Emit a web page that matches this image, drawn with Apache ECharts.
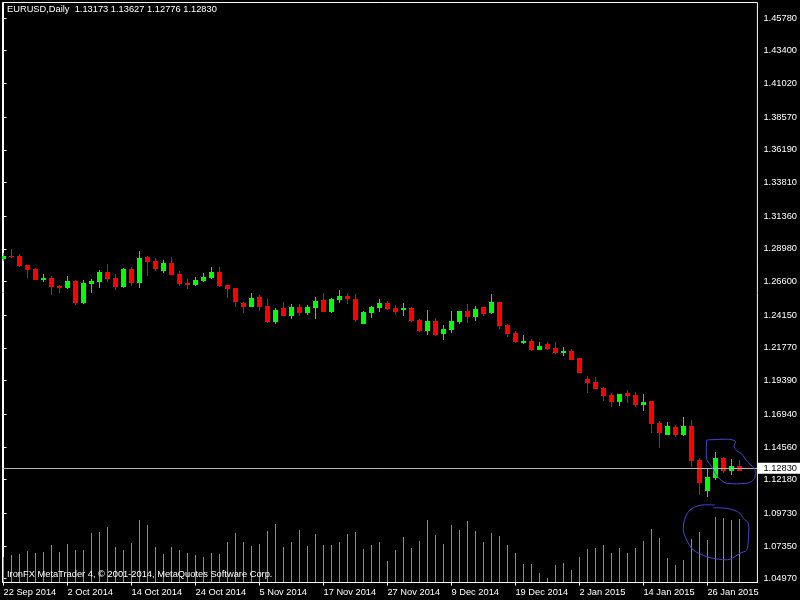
<!DOCTYPE html>
<html><head><meta charset="utf-8">
<script src="https://cdn.jsdelivr.net/npm/echarts@6/dist/echarts.min.js"></script>
<style>html,body{margin:0;padding:0;background:#000}#c{width:800px;height:600px}</style>
</head><body><div id="c"></div>
<script>
const symbolName = 'EURUSD,Daily';
const footerText = 'IronFX MetaTrader 4, © 2001-2014, MetaQuotes Software Corp.';
const dates = [
'22 Sep 2014','23 Sep 2014','24 Sep 2014','25 Sep 2014','26 Sep 2014','29 Sep 2014','30 Sep 2014','1 Oct 2014','2 Oct 2014','3 Oct 2014',
'6 Oct 2014','7 Oct 2014','8 Oct 2014','9 Oct 2014','10 Oct 2014','13 Oct 2014','14 Oct 2014','15 Oct 2014','16 Oct 2014','17 Oct 2014',
'20 Oct 2014','21 Oct 2014','22 Oct 2014','23 Oct 2014','24 Oct 2014','27 Oct 2014','28 Oct 2014','29 Oct 2014','30 Oct 2014','31 Oct 2014',
'3 Nov 2014','4 Nov 2014','5 Nov 2014','6 Nov 2014','7 Nov 2014','10 Nov 2014','11 Nov 2014','12 Nov 2014','13 Nov 2014','14 Nov 2014',
'17 Nov 2014','18 Nov 2014','19 Nov 2014','20 Nov 2014','21 Nov 2014','24 Nov 2014','25 Nov 2014','26 Nov 2014','27 Nov 2014','28 Nov 2014',
'1 Dec 2014','2 Dec 2014','3 Dec 2014','4 Dec 2014','5 Dec 2014','8 Dec 2014','9 Dec 2014','10 Dec 2014','11 Dec 2014','12 Dec 2014',
'15 Dec 2014','16 Dec 2014','17 Dec 2014','18 Dec 2014','19 Dec 2014','22 Dec 2014','23 Dec 2014','24 Dec 2014','26 Dec 2014','29 Dec 2014',
'30 Dec 2014','31 Dec 2014','2 Jan 2015','5 Jan 2015','6 Jan 2015','7 Jan 2015','8 Jan 2015','9 Jan 2015','12 Jan 2015','13 Jan 2015',
'14 Jan 2015','15 Jan 2015','16 Jan 2015','19 Jan 2015','20 Jan 2015','21 Jan 2015','22 Jan 2015','23 Jan 2015','26 Jan 2015','27 Jan 2015',
'28 Jan 2015','29 Jan 2015','30 Jan 2015'];
const open = [
1.2824,1.2846,1.2846,1.2780,1.2751,1.2671,1.2686,1.2627,1.2613,1.2664,
1.2504,1.2642,1.2657,1.2729,1.2686,1.2620,1.2751,1.2649,1.2838,1.2809,
1.2737,1.2795,1.2715,1.2649,1.2635,1.2664,1.2686,1.2729,1.2635,1.2613,
1.2504,1.2475,1.2547,1.2482,1.2365,1.2467,1.2409,1.2475,1.2431,1.2467,
1.2526,1.2438,1.2526,1.2555,1.2533,1.2351,1.2431,1.2467,1.2504,1.2467,
1.2453,1.2467,1.2380,1.2300,1.2373,1.2278,1.2307,1.2365,1.2445,1.2402,
1.2475,1.2431,1.2511,1.2344,1.2285,1.2212,1.2227,1.2162,1.2205,1.2176,
1.2140,1.2154,1.2103,1.1950,1.1929,1.1885,1.1834,1.1783,1.1849,1.1834,
1.1761,1.1790,1.1630,1.1543,1.1601,1.1543,1.1608,1.1361,1.1135,1.1230,
1.1376,1.1281,1.13173];
const high = [
1.2868,1.2897,1.2860,1.2781,1.2758,1.2715,1.2700,1.2635,1.2700,1.2671,
1.2671,1.2678,1.2744,1.2788,1.2715,1.2758,1.2766,1.2882,1.2846,1.2831,
1.2817,1.2838,1.2737,1.2678,1.2693,1.2722,1.2766,1.2766,1.2636,1.2614,
1.2511,1.2577,1.2562,1.2533,1.2467,1.2511,1.2496,1.2496,1.2489,1.2547,
1.2577,1.2540,1.2598,1.2577,1.2569,1.2445,1.2482,1.2533,1.2518,1.2489,
1.2504,1.2475,1.2387,1.2453,1.2394,1.2344,1.2445,1.2446,1.2496,1.2482,
1.2476,1.2569,1.2512,1.2351,1.2300,1.2271,1.2242,1.2220,1.2220,1.2220,
1.2183,1.2169,1.2104,1.1972,1.1965,1.1892,1.1849,1.1842,1.1870,1.1856,
1.1841,1.1791,1.1645,1.1638,1.1616,1.1674,1.1652,1.1376,1.1295,1.1419,
1.1383,1.1368,1.13627];
const low = [
1.2809,1.2831,1.2766,1.2686,1.2670,1.2657,1.2562,1.2577,1.2606,1.2489,
1.2496,1.2577,1.2613,1.2657,1.2598,1.2613,1.2627,1.2613,1.2700,1.2737,
1.2722,1.2706,1.2627,1.2606,1.2627,1.2657,1.2678,1.2620,1.2540,1.2475,
1.2431,1.2474,1.2445,1.2358,1.2351,1.2408,1.2387,1.2409,1.2416,1.2387,
1.2437,1.2431,1.2504,1.2496,1.2365,1.2350,1.2394,1.2438,1.2453,1.2416,
1.2409,1.2365,1.2293,1.2271,1.2263,1.2234,1.2285,1.2351,1.2358,1.2373,
1.2409,1.2424,1.2314,1.2256,1.2212,1.2205,1.2154,1.2161,1.2162,1.2132,
1.2118,1.2088,1.1993,1.1849,1.1877,1.1790,1.1747,1.1754,1.1776,1.1747,
1.1718,1.1558,1.1448,1.1542,1.1528,1.1536,1.1310,1.1106,1.1092,1.1215,
1.1266,1.1252,1.12776];
const close = [
1.2846,1.2838,1.2773,1.2744,1.2671,1.2686,1.2620,1.2613,1.2664,1.2504,
1.2649,1.2664,1.2729,1.2678,1.2620,1.2751,1.2649,1.2831,1.2802,1.2751,
1.2795,1.2707,1.2642,1.2635,1.2671,1.2693,1.2729,1.2627,1.2606,1.2511,
1.2475,1.2540,1.2475,1.2365,1.2453,1.2409,1.2475,1.2431,1.2475,1.2518,
1.2438,1.2533,1.2555,1.2533,1.2380,1.2438,1.2475,1.2504,1.2460,1.2438,
1.2467,1.2373,1.2300,1.2373,1.2271,1.2314,1.2373,1.2445,1.2402,1.2460,
1.2424,1.2511,1.2336,1.2278,1.2220,1.2227,1.2162,1.2191,1.2169,1.2140,
1.2154,1.2089,1.1994,1.1921,1.1878,1.1827,1.1783,1.1841,1.1827,1.1761,
1.1783,1.1623,1.1558,1.1608,1.1543,1.1608,1.1354,1.1194,1.1237,1.1376,
1.1281,1.1317,1.12830];
const volume = [
38500,41500,43000,47500,44500,46000,56500,46000,58000,49000,
49000,74500,76000,83500,53500,49000,59500,94000,86500,53500,
43000,53500,49000,44500,41500,38500,44500,43000,61000,74500,
61000,55000,58000,77500,88000,53500,61000,79000,55000,73000,
56500,56500,61000,73000,76000,50500,56500,61000,32500,49000,
68500,52000,62500,94000,71500,58000,86500,79000,92500,77500,
61000,74500,70000,56500,44500,28000,28000,14500,7000,26500,
29500,19000,38500,50500,52000,56500,44500,52000,44500,52000,
62500,80500,67000,37000,26500,34000,65500,76000,64000,98500,
97000,94000,95500];
const priceTickLabels = ['1.45780','1.43400','1.41020','1.38570','1.36190','1.33810','1.31360','1.28980','1.26600',
'1.24150','1.21770','1.19390','1.16940','1.14560','1.12180','1.09730','1.07350','1.04970'];
const dateTickIndex = [0,8,16,24,32,40,48,56,64,72,80,88];

const FONT = 'Tahoma, "Liberation Sans", Arial, sans-serif';
const FS = 9.3;
const UP = '#00ff00', DOWN = '#ff0000', VOLC = '#32cd32', PEN = '#4646d2';
const last = close.length - 1;

const candleData = dates.map((d, i) => [i, open[i], close[i], low[i], high[i]]);
const volData = dates.map((d, i) => [i, volume[i]]);

const chart = echarts.init(document.getElementById('c'), null, {renderer: 'canvas'});
chart.setOption({
  backgroundColor: '#000',
  animation: false,
  grid: {left: 2.5, top: 2.5, right: 42.5, bottom: 17.5, show: true, borderColor: '#fff', borderWidth: 1, backgroundColor: 'transparent'},
  xAxis: {
    type: 'value', min: -0.125, max: 94.25,
    axisLine: {show: true, lineStyle: {color: '#fff'}},
    axisTick: {show: true, length: 3, lineStyle: {color: '#fff'}, customValues: dateTickIndex},
    axisLabel: {customValues: dateTickIndex, formatter: v => dates[v], color: '#fff', fontSize: FS, fontFamily: FONT, align: 'left', margin: 5},
    splitLine: {show: false}
  },
  yAxis: [{
    type: 'value', position: 'right', min: 1.046926, max: 1.469082,
    axisLine: {show: true, lineStyle: {color: '#fff'}},
    axisTick: {show: true, length: 3, lineStyle: {color: '#fff'}, customValues: priceTickLabels.map(Number)},
    axisLabel: {customValues: priceTickLabels.map(Number), formatter: v => v.toFixed(5), color: '#fff', fontSize: FS, fontFamily: FONT, margin: 6},
    splitLine: {show: false}
  }, {
    type: 'value', min: 0, max: 870000, show: false, splitLine: {show: false}
  }],
  series: [{
    type: 'custom', yAxisIndex: 1, clip: true, z: 1,
    data: volData, encode: {x: 0, y: 1},
    renderItem: (params, api) => {
      const top = api.coord([api.value(0), api.value(1)]);
      const base = api.coord([api.value(0), 0]);
      const x = Math.floor(top[0]);
      const y0 = Math.round(top[1]);
      const y1 = Math.floor(base[1]);
      return {type: 'rect', shape: {x: x, y: y0, width: 1, height: Math.max(0, y1 - y0)}, style: {fill: VOLC}};
    }
  }, {
    type: 'line', data: [], z: 2,
    markLine: {
      silent: true, symbol: 'none', animation: false,
      lineStyle: {color: '#b8b8b8', type: 'solid', width: 1},
      data: [{yAxis: close[last]}],
      label: {show: true, position: 'end', distance: 0, formatter: close[last].toFixed(5),
        backgroundColor: '#fff', color: '#000', fontSize: FS, fontFamily: FONT, padding: [1, 4, 0, 6], lineHeight: 10}
    }
  }, {
    type: 'custom', clip: true, z: 3,
    data: candleData, encode: {x: 0, y: [1, 2, 3, 4]},
    renderItem: (params, api) => {
      const i = api.value(0), o = api.value(1), c = api.value(2), l = api.value(3), h = api.value(4);
      const pO = api.coord([i, o]), pC = api.coord([i, c]), pL = api.coord([i, l]), pH = api.coord([i, h]);
      const x = Math.floor(pO[0]);
      const col = c >= o ? UP : DOWN;
      const yT = Math.round(Math.min(pO[1], pC[1]));
      const yB = Math.round(Math.max(pO[1], pC[1]));
      const wT = Math.round(pH[1]), wB = Math.round(pL[1]);
      return {type: 'group', children: [
        {type: 'rect', shape: {x: x, y: wT, width: 1, height: Math.max(1, wB - wT)}, style: {fill: col}},
        {type: 'rect', shape: {x: x - 2, y: yT, width: 5, height: Math.max(1, yB - yT)}, style: {fill: col}}
      ]};
    }
  }],
  graphic: [
    {type: 'text', left: 7, top: 5, z: 10, style: {text: symbolName + '  ' + [open[last], high[last], low[last], close[last]].map(v => v.toFixed(5)).join(' '), fill: '#fff', font: FS + 'px ' + FONT}},
    {type: 'text', left: 7, top: 570, z: 10, style: {text: footerText, fill: '#fff', font: FS + 'px ' + FONT}},
    {type: 'polyline', z: 20, silent: true, shape: {smooth: 0.3, points: [[706.7,440],[729.3,439.3],[735.7,441.7],[734,446],[736.7,450.7],[741.7,454],[747.3,461.7],[752.7,466.7],[755,470],[755,477.3],[751.7,481.3],[746.7,483.3],[726.7,483.3],[720,479.3],[715,473.3],[711.7,466.7],[706.7,459.3],[706.7,440]]}, style: {stroke: PEN, lineWidth: 1, fill: null}},
    {type: 'polyline', z: 20, silent: true, shape: {smooth: 0.3, points: [[715,505],[700,505.3],[690,510],[685,518.3],[683.3,530],[686.7,540],[693.3,550],[706.7,556.7],[720,559.3],[730,559.3],[740,553.3],[746.7,550],[748.3,540],[748.3,523.3],[743.3,518.3],[740,513.3],[733.3,510],[726.7,508.3],[713.3,507.7]]}, style: {stroke: PEN, lineWidth: 1, fill: null}}
  ]
});
</script>
</body></html>
